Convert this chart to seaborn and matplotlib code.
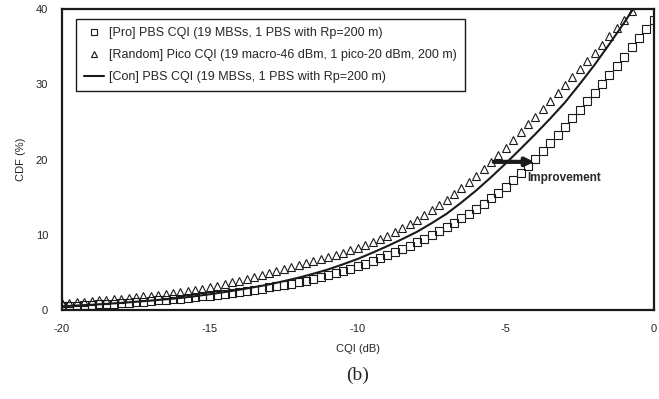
import matplotlib
matplotlib.use("Agg")
import matplotlib.pyplot as plt
import numpy as np
import seaborn as sns

# ---------------------------------------------------------------- data
cqi_q = np.linspace(-20, 0, 81)          # marker grid, 0.25 dB
pro_cdf = [0.50, 0.55, 0.60, 0.65, 0.70, 0.75, 0.80, 0.85, 0.90, 0.97,
           1.05, 1.12, 1.20, 1.27, 1.35, 1.42, 1.50, 1.60, 1.70, 1.80,
           1.90, 2.02, 2.15, 2.27, 2.40, 2.55, 2.70, 2.85, 3.00, 3.17,
           3.35, 3.52, 3.70, 3.92, 4.15, 4.37, 4.60, 4.89, 5.18, 5.48,
           5.80, 6.16, 6.53, 6.91, 7.30, 7.72, 8.14, 8.57, 9.00, 9.48,
           9.98, 10.48, 11.00, 11.58, 12.17, 12.78, 13.40, 14.12, 14.86, 15.62,
           16.40, 17.30, 18.22, 19.15, 20.10, 21.15, 22.22, 23.30, 24.40, 25.52,
           26.64, 27.77, 28.90, 30.10, 31.30, 32.50, 33.70, 34.92, 36.15, 37.37,
           38.60]
random_cdf = [0.90, 0.97, 1.05, 1.12, 1.20, 1.27, 1.35, 1.42, 1.50, 1.60,
              1.70, 1.80, 1.90, 2.02, 2.14, 2.27, 2.40, 2.54, 2.69, 2.84,
              3.00, 3.22, 3.44, 3.67, 3.90, 4.14, 4.39, 4.64, 4.90, 5.16,
              5.43, 5.71, 6.00, 6.25, 6.50, 6.75, 7.00, 7.31, 7.63, 7.96,
              8.30, 8.69, 9.08, 9.49, 9.90, 10.41, 10.93, 11.46, 12.00, 12.63,
              13.27, 13.93, 14.60, 15.38, 16.17, 16.98, 17.80, 18.73, 19.67, 20.63,
              21.60, 22.62, 23.64, 24.67, 25.70, 26.75, 27.80, 28.85, 29.90, 30.97,
              32.05, 33.12, 34.20, 35.30, 36.40, 37.50, 38.60, 39.70]
cqi_h = np.linspace(-20, -0.5, 40)       # line grid, 0.5 dB
con_cdf = [0.50, 0.60, 0.70, 0.82, 0.95, 1.10, 1.25, 1.42, 1.60, 1.84,
           2.10, 2.39, 2.70, 3.04, 3.40, 3.84, 4.30, 4.83, 5.40, 6.08,
           6.80, 7.63, 8.50, 9.43, 10.40, 11.56, 12.80, 14.30, 15.90, 17.65,
           19.50, 21.43, 23.40, 25.45, 27.60, 30.05, 32.60, 35.35, 38.20, 41.20]

labels = ["[Pro] PBS CQI (19 MBSs, 1 PBS with Rp=200 m)",
          "[Random] Pico CQI (19 macro-46 dBm, 1 pico-20 dBm, 200 m)",
          "[Con] PBS CQI (19 MBSs, 1 PBS with Rp=200 m)"]
x_ticks = [-20, -15, -10, -5, 0]
y_ticks = [0, 10, 20, 30, 40]

# ---------------------------------------------------------------- plot
sns.set_theme(style="white")
plt.rcParams["font.family"] = ["Liberation Sans", "DejaVu Sans"]
plt.rcParams["axes.unicode_minus"] = False

fig = plt.figure(figsize=(6.59, 3.99), dpi=100)
ax = fig.add_axes([0.094, 0.223, 0.898, 0.754])

sns.lineplot(x=cqi_q, y=pro_cdf, ax=ax, color="k", linestyle="", marker="s",
             markersize=5.5, markerfacecolor="none", markeredgecolor="k",
             markeredgewidth=0.8, label=labels[0])
sns.lineplot(x=cqi_q[:len(random_cdf)], y=random_cdf, ax=ax, color="k", linestyle="",
             marker="^", markersize=5.5, markerfacecolor="none", markeredgecolor="k",
             markeredgewidth=0.8, label=labels[1])
sns.lineplot(x=cqi_h, y=con_cdf, ax=ax, color="k", linewidth=1.5, label=labels[2])

ax.set_xlim(-20, 0)
ax.set_ylim(0, 40)
ax.set_xticks(x_ticks)
ax.set_yticks(y_ticks)
ax.tick_params(length=0, labelsize=8, pad=10)
for s in ax.spines.values():
    s.set_color("k")
    s.set_linewidth(1.6)
ax.set_xlabel("CQI (dB)", fontsize=8, labelpad=7)
ax.set_ylabel("CDF (%)", fontsize=8, labelpad=7)

leg = ax.legend(loc="upper left", bbox_to_anchor=(0.024, 0.967), fontsize=9,
                frameon=True, fancybox=False, edgecolor="k", framealpha=1,
                handlelength=1.6, handletextpad=0.4, labelspacing=0.8,
                borderpad=0.65, borderaxespad=0, markerscale=0.8)
leg.get_frame().set_linewidth(1.0)

ax.annotate("", xy=(-3.95, 19.7), xytext=(-5.5, 19.7),
            arrowprops=dict(arrowstyle="-|>", lw=3, color="k", mutation_scale=12))
ax.text(-4.26, 17.6, "Improvement", fontsize=8.5, fontweight="bold", ha="left", va="center")

fig.text(0.542, 0.06, "(b)", fontsize=14, family="Liberation Serif", ha="center", va="center")

plt.savefig("out.png", dpi=100)
